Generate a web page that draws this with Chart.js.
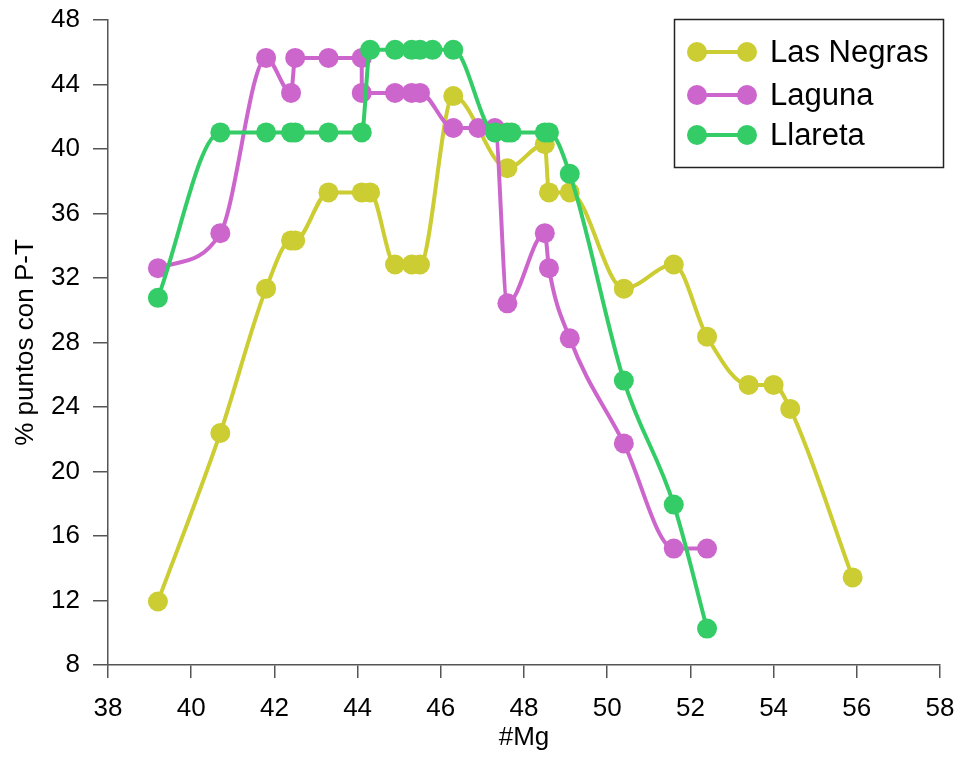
<!DOCTYPE html>
<html>
<head>
<meta charset="utf-8">
<script src="https://cdn.jsdelivr.net/npm/chart.js@4.4.1/dist/chart.umd.min.js"></script>
<style>
  html, body { margin: 0; padding: 0; background: #fff; }
  #wrap { width: 960px; height: 759px; position: relative; }
</style>
</head>
<body>
<div id="wrap"><canvas id="c"></canvas></div>
<script>
// ---- data ----
const seriesNames = ['Las Negras', 'Laguna', 'Llareta'];

const mgLasNegras  = [39.2, 40.7, 41.8, 42.4, 42.5, 43.3, 44.1, 44.3, 44.9, 45.3, 45.5, 46.3, 47.6, 48.5, 48.6, 49.1, 50.4, 51.6, 52.4, 53.4, 54.0, 54.4, 55.9];
const pctLasNegras = [11.94, 22.39, 31.34, 34.33, 34.33, 37.31, 37.31, 37.31, 32.84, 32.84, 32.84, 43.28, 38.81, 40.30, 37.31, 37.31, 31.34, 32.84, 28.36, 25.37, 25.37, 23.88, 13.43];

const mgLaguna  = [39.2, 40.7, 41.8, 42.4, 42.5, 43.3, 44.1, 44.1, 44.9, 45.3, 45.5, 46.3, 46.9, 47.3, 47.6, 48.5, 48.6, 49.1, 50.4, 51.6, 52.4];
const pctLaguna = [32.61, 34.78, 45.65, 43.48, 45.65, 45.65, 45.65, 43.48, 43.48, 43.48, 43.48, 41.30, 41.30, 41.30, 30.43, 34.78, 32.61, 28.26, 21.74, 15.22, 15.22];

const mgLlareta  = [39.2, 40.7, 41.8, 42.4, 42.5, 43.3, 44.1, 44.3, 44.9, 45.3, 45.5, 45.8, 46.3, 47.3, 47.6, 47.7, 48.5, 48.6, 49.1, 50.4, 51.6, 52.4];
const pctLlareta = [30.77, 41.03, 41.03, 41.03, 41.03, 41.03, 41.03, 46.15, 46.15, 46.15, 46.15, 46.15, 46.15, 41.03, 41.03, 41.03, 41.03, 41.03, 38.46, 25.64, 17.95, 10.26];

const xTicks = [38, 40, 42, 44, 46, 48, 50, 52, 54, 56, 58];
const yTicks = [8, 12, 16, 20, 24, 28, 32, 36, 40, 44, 48];

const colors = ['#CCCC33', '#CC66CC', '#33CC66'];
const FONT = '"Liberation Sans", Arial, sans-serif';

function toPoints(xs, ys) { return xs.map((x, i) => ({ x: x, y: ys[i] })); }

const allX = [mgLasNegras, mgLaguna, mgLlareta];
const allY = [pctLasNegras, pctLaguna, pctLlareta];

const datasets = seriesNames.map((name, i) => ({
  label: name,
  data: toPoints(allX[i], allY[i]),
  borderColor: colors[i],
  backgroundColor: colors[i],
  pointBackgroundColor: colors[i],
  pointBorderColor: colors[i],
  pointRadius: 10,
  pointBorderWidth: 0,
  borderWidth: 4,
  cubicInterpolationMode: 'monotone',
  tension: 0.4,
  fill: false,
  order: 2 - i
}));

const legendPlugin = {
  id: 'boxLegend',
  afterDraw(chart) {
    const ctx = chart.ctx;
    ctx.save();
    ctx.fillStyle = '#fff';
    ctx.fillRect(674.5, 19.5, 269, 148);
    ctx.strokeStyle = '#222';
    ctx.lineWidth = 1.5;
    ctx.strokeRect(674.5, 19.5, 269, 148);
    const rows = [52, 95, 135];
    chart.data.datasets.forEach((ds, i) => {
      const y = rows[i];
      ctx.strokeStyle = ds.borderColor;
      ctx.lineWidth = 4;
      ctx.beginPath(); ctx.moveTo(697, y); ctx.lineTo(747, y); ctx.stroke();
      ctx.fillStyle = ds.borderColor;
      [697, 747].forEach(cx => { ctx.beginPath(); ctx.arc(cx, y, 10, 0, Math.PI * 2); ctx.fill(); });
      ctx.fillStyle = '#000';
      ctx.font = '31px ' + FONT;
      ctx.textBaseline = 'middle';
      ctx.textAlign = 'left';
      ctx.fillText(ds.label, 770, y + 1);
    });
    ctx.restore();
  }
};

new Chart(document.getElementById('c'), {
  type: 'line',
  data: { datasets: datasets },
  plugins: [legendPlugin],
  options: {
    responsive: true,
    maintainAspectRatio: false,
    animation: false,
    layout: { padding: { top: 20, right: 20, left: 0, bottom: 0 } },
    plugins: { legend: { display: false }, tooltip: { enabled: false } },
    scales: {
      x: {
        type: 'linear',
        min: 38, max: 58,
        afterBuildTicks(scale) { scale.ticks = xTicks.map(v => ({ value: v })); },
        afterFit(scale) { scale.height = 94; scale.paddingLeft = 0; scale.paddingRight = 0; },
        ticks: { color: '#000', font: { size: 26, family: FONT }, padding: 15, maxRotation: 0 },
        grid: { drawOnChartArea: false, drawTicks: true, tickLength: 13, color: '#555', lineWidth: 1.5 },
        border: { color: '#555', width: 1.5 },
        title: { display: true, text: '#Mg', color: '#000', font: { size: 26, family: FONT }, padding: { top: 0, bottom: 6 } }
      },
      y: {
        type: 'linear',
        min: 8, max: 48,
        afterBuildTicks(scale) { scale.ticks = yTicks.map(v => ({ value: v })); },
        afterFit(scale) { scale.width = 108; scale.paddingTop = 0; scale.paddingBottom = 0; },
        ticks: { color: '#000', font: { size: 26, family: FONT }, padding: 13 },
        grid: { drawOnChartArea: false, drawTicks: true, tickLength: 15, color: '#555', lineWidth: 1.5 },
        border: { color: '#555', width: 1.5 },
        title: { display: true, text: '% puntos con P-T', color: '#000', font: { size: 26, family: FONT }, padding: { top: 10, bottom: 0 } }
      }
    }
  }
});
</script>
</body>
</html>
